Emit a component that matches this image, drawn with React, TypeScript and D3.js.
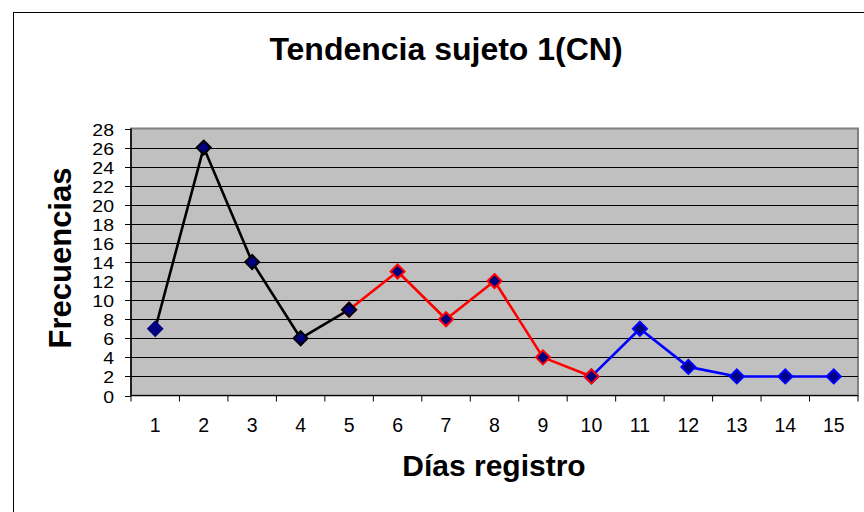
import { useMemo } from "react";
import * as d3 from "d3";

const WIDTH = 864;
const HEIGHT = 512;
const PLOT = { left: 131, right: 858, top: 128.5, bottom: 395.5 };

const dias = [1, 2, 3, 4, 5, 6, 7, 8, 9, 10, 11, 12, 13, 14, 15];
const yTicks = [0, 2, 4, 6, 8, 10, 12, 14, 16, 18, 20, 22, 24, 26, 28];

// three stretches of the same record, each with its own line colour
const diasTramo1 = [1, 2, 3, 4, 5];
const valoresTramo1 = [7, 26, 14, 6, 9];
const diasTramo2 = [5, 6, 7, 8, 9, 10];
const valoresTramo2 = [9, 13, 8, 12, 4, 2];
const diasTramo3 = [10, 11, 12, 13, 14, 15];
const valoresTramo3 = [2, 7, 3, 2, 2, 2];

const tramos = [
  { dias: diasTramo1, valores: valoresTramo1, color: "#000000" },
  { dias: diasTramo2, valores: valoresTramo2, color: "#FF0000" },
  { dias: diasTramo3, valores: valoresTramo3, color: "#0000FF" },
];

const FONT = "Arial, 'Liberation Sans', sans-serif";

export default function App() {
  const xBand = useMemo(
    () =>
      d3
        .scaleBand<number>()
        .domain(dias)
        .range([PLOT.left, PLOT.right])
        .padding(0),
    []
  );
  const xScale = (d: number) => (xBand(d) ?? 0) + xBand.bandwidth() / 2;

  const yScale = useMemo(
    () => d3.scaleLinear().domain([0, 28]).range([PLOT.bottom, PLOT.top]),
    []
  );

  const line = d3
    .line<[number, number]>()
    .x((d) => xScale(d[0]))
    .y((d) => yScale(d[1]));

  const diamond = (cx: number, cy: number, r: number) =>
    `M${cx},${cy - r}L${cx + r},${cy}L${cx},${cy + r}L${cx - r},${cy}Z`;

  // marker outlines: first point has no dark outline
  const markerStroke = (t: number, i: number) => {
    if (t === 0 && i === 0) return "#000080";
    return tramos[t].color;
  };

  const boundaries = dias.map((d) => xBand(d) ?? 0).concat([PLOT.right]);

  return (
    <svg
      width={WIDTH}
      height={HEIGHT}
      style={{ position: "absolute", left: 0, top: 0, background: "#fff" }}
    >
      {/* chart frame */}
      <rect x={13.5} y={12.5} width={880} height={520} fill="#fff" stroke="#000" strokeWidth={1} />

      {/* title */}
      <text x={446} y={60} textAnchor="middle" fontFamily={FONT} fontWeight="bold" fontSize={32}>
        Tendencia sujeto 1(CN)
      </text>

      {/* plot area */}
      <rect
        x={PLOT.left}
        y={PLOT.top}
        width={PLOT.right - PLOT.left}
        height={PLOT.bottom - PLOT.top}
        fill="#C0C0C0"
        stroke="#808080"
        strokeWidth={2}
      />

      {/* gridlines */}
      {yTicks.slice(1, -1).map((t) => (
        <line
          key={t}
          x1={PLOT.left}
          x2={PLOT.right}
          y1={Math.round(yScale(t)) + 0.5}
          y2={Math.round(yScale(t)) + 0.5}
          stroke="#000"
          strokeWidth={1}
        />
      ))}

      {/* y axis */}
      <line x1={PLOT.left} x2={PLOT.left} y1={PLOT.top} y2={PLOT.bottom} stroke="#000" strokeWidth={1.5} />
      {yTicks.map((t) => {
        const y = Math.round(yScale(t)) + 0.5;
        return (
          <g key={t}>
            <line x1={125} x2={PLOT.left} y1={y} y2={y} stroke="#000" />
            <text
              x={114}
              y={0}
              textAnchor="end"
              dominantBaseline="central"
              fontFamily={FONT}
              fontSize={19.5}
              transform={`translate(0, ${y + 0.5}) scale(1, 0.86)`}
            >
              {t}
            </text>
          </g>
        );
      })}

      {/* x axis */}
      <line x1={PLOT.left} x2={PLOT.right} y1={PLOT.bottom} y2={PLOT.bottom} stroke="#000" strokeWidth={1} />
      {boundaries.map((bx, i) => (
        <line key={i} x1={bx} x2={bx} y1={PLOT.bottom} y2={PLOT.bottom + 6} stroke="#000" />
      ))}
      {dias.map((d) => (
        <text key={d} x={xScale(d)} y={432} textAnchor="middle" fontFamily={FONT} fontSize={19.5}>
          {d}
        </text>
      ))}

      {/* lines */}
      {tramos.map((tr, t) => (
        <path
          key={t}
          d={line(tr.dias.map((d, i) => [d, tr.valores[i]] as [number, number])) ?? ""}
          fill="none"
          stroke={tr.color}
          strokeWidth={2.6}
          strokeLinejoin="round"
        />
      ))}

      {/* markers: later stretches first so the shared points keep the earlier outline */}
      {[2, 1, 0].map((t) =>
        tramos[t].dias.map((d, i) => (
          <path
            key={`${t}-${i}`}
            d={diamond(xScale(d), yScale(tramos[t].valores[i]), 7)}
            fill="#000080"
            stroke={markerStroke(t, i)}
            strokeWidth={2}
          />
        ))
      )}

      {/* axis titles */}
      <text x={494} y={476} textAnchor="middle" fontFamily={FONT} fontWeight="bold" fontSize={30}>
        Días registro
      </text>
      <text
        transform={`translate(71, 258) rotate(-90)`}
        textAnchor="middle"
        fontFamily={FONT}
        fontWeight="bold"
        fontSize={31}
      >
        Frecuencias
      </text>
    </svg>
  );
}
